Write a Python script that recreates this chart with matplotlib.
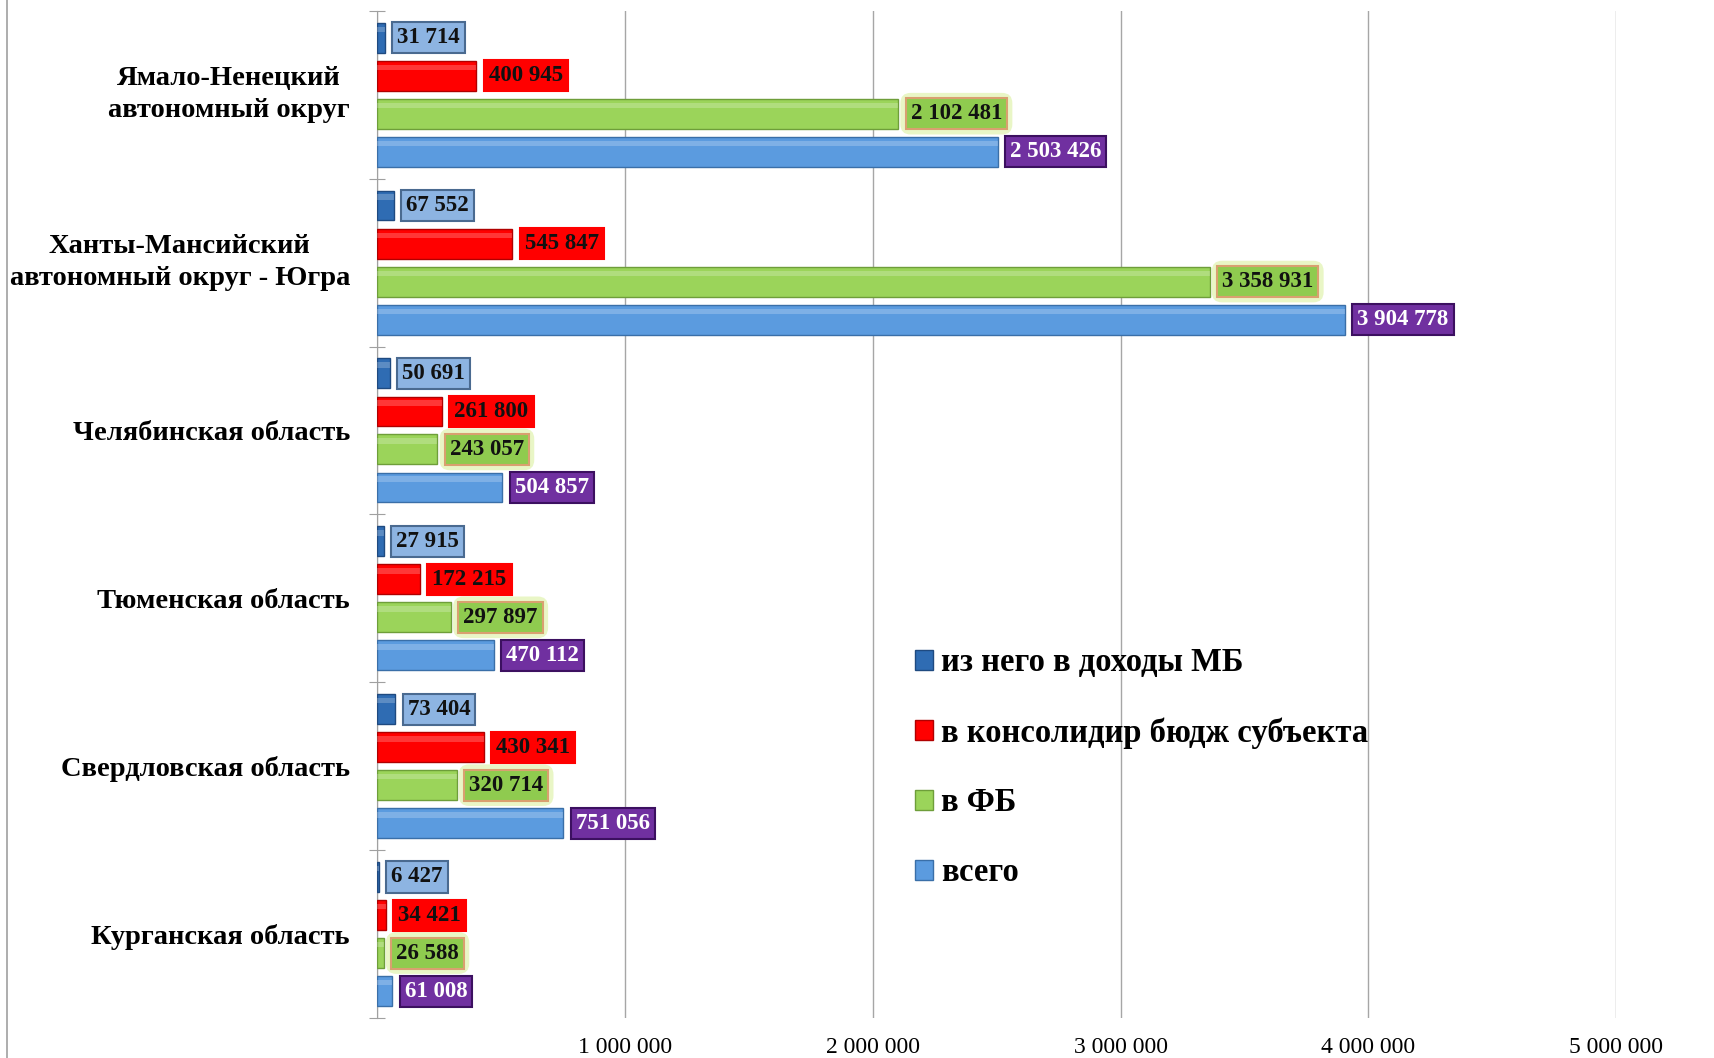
import numpy as np
import matplotlib
matplotlib.use("Agg")
import matplotlib.pyplot as plt
from matplotlib.ticker import FuncFormatter
from matplotlib.lines import Line2D
from matplotlib.patches import Patch

plt.rcParams['font.family'] = ['Liberation Serif', 'DejaVu Serif']

# регионы снизу вверх (как в barh)
regions = ["Курганская область", "Свердловская область", "Тюменская область",
           "Челябинская область", "Ханты-Мансийский\nавтономный округ - Югра",
           "Ямало-Ненецкий\nавтономный округ"]

mb = [6427, 73404, 27915, 50691, 67552, 31714]          # из него в доходы МБ
kons = [34421, 430341, 172215, 261800, 545847, 400945]  # в консолидир бюдж субъекта
fb = [26588, 320714, 297897, 243057, 3358931, 2102481]  # в ФБ
vsego = [61008, 751056, 470112, 504857, 3904778, 2503426]  # всего

series_names = ["из него в доходы МБ", "в консолидир бюдж субъекта", "в ФБ", "всего"]
bar_colors = ["#2F6CB3", "#FF0000", "#9BD45A", "#5B9BDF"]
bar_edges = ["#1F4A80", "#B00000", "#6E9E3A", "#3A6FA8"]
lab_bg = ["#8DB4E2", "#FF0000", "#8FCB4F", "#7030A0"]
lab_edge = ["#4A6A90", "#FF0000", "#D9A070", "#3C1060"]
lab_txt = ["#111111", "#111111", "#111111", "white"]


def fmt(v):
    return f"{int(v):,}".replace(",", " ")


fig = plt.figure(figsize=(17.14, 10.58), dpi=100)
ax = fig.add_axes([0.220, 0.0378, 0.723, 0.952])

y = np.arange(len(regions))
offsets = [0.34, 0.113, -0.113, -0.34]
h = 0.178
data = [mb, kons, fb, vsego]

for i, vals in enumerate(data):
    ax.barh(y + offsets[i], vals, height=h, color=bar_colors[i],
            edgecolor=bar_edges[i], linewidth=1.0, zorder=3)
    # светлая полоска сверху для объёма
    ax.barh(y + offsets[i] + h * 0.28, vals, height=h * 0.18, color="white",
            alpha=0.22, linewidth=0, zorder=4)
    for yy, v in zip(y + offsets[i], vals):
        if i == 2:
            # мягкое свечение вокруг подписей ФБ
            ax.annotate(fmt(v), xy=(v, yy), xytext=(9, 0), textcoords="offset points",
                        ha="left", va="center", fontsize=16.5, fontweight="bold",
                        color="none", zorder=4.5,
                        bbox=dict(boxstyle="round,pad=0.45", fc="#E4F4B8",
                                  ec="none", alpha=0.8))
        ax.annotate(fmt(v), xy=(v, yy), xytext=(9, 0), textcoords="offset points",
                    ha="left", va="center", fontsize=16.5, fontweight="bold",
                    color=lab_txt[i], zorder=5,
                    bbox=dict(boxstyle="square,pad=0.22", fc=lab_bg[i],
                              ec=lab_edge[i], lw=1.5))

ax.set_xlim(0, 5000000)
ax.set_ylim(-0.5, len(regions) - 0.5)

ax.set_xticks([0, 1000000, 2000000, 3000000, 4000000, 5000000])
ax.xaxis.set_major_formatter(FuncFormatter(lambda v, p: "" if v == 0 else fmt(v)))
ax.tick_params(axis="x", length=0, labelsize=17, pad=14)
ax.grid(axis="x", color="#A6A6A6", linewidth=1.0, zorder=0)

ax.set_yticks(np.arange(-0.5, len(regions), 1.0))
ax.set_yticklabels([])
ax.set_yticks(y, minor=True)
ylabs = ax.set_yticklabels(regions, minor=True, fontsize=20.5, fontweight="bold",
                           multialignment="center", linespacing=1.38)
for t in ylabs:
    if "\n" in t.get_text():
        t.set_va("center")
ax.tick_params(axis="y", which="major", direction="inout", length=12,
               color="#A0A0A0")
ax.tick_params(axis="y", which="minor", length=0, pad=19.5)

for s in ["top", "right", "bottom"]:
    ax.spines[s].set_visible(False)
ax.spines["left"].set_color("#A0A0A0")

handles = [Patch(facecolor=bar_colors[i], edgecolor=bar_edges[i]) for i in range(4)]
fig.legend(handles, series_names, loc="upper left", bbox_to_anchor=(0.5165, 0.416),
           frameon=False, prop=dict(size=23.5, weight="bold"), handlelength=0.55,
           handleheight=0.55, handletextpad=0.25, labelspacing=1.19)

fig.add_artist(Line2D([0.004, 0.004], [0, 1], color="#A0A0A0", linewidth=1.2))

fig.savefig("out.png", dpi=100)
